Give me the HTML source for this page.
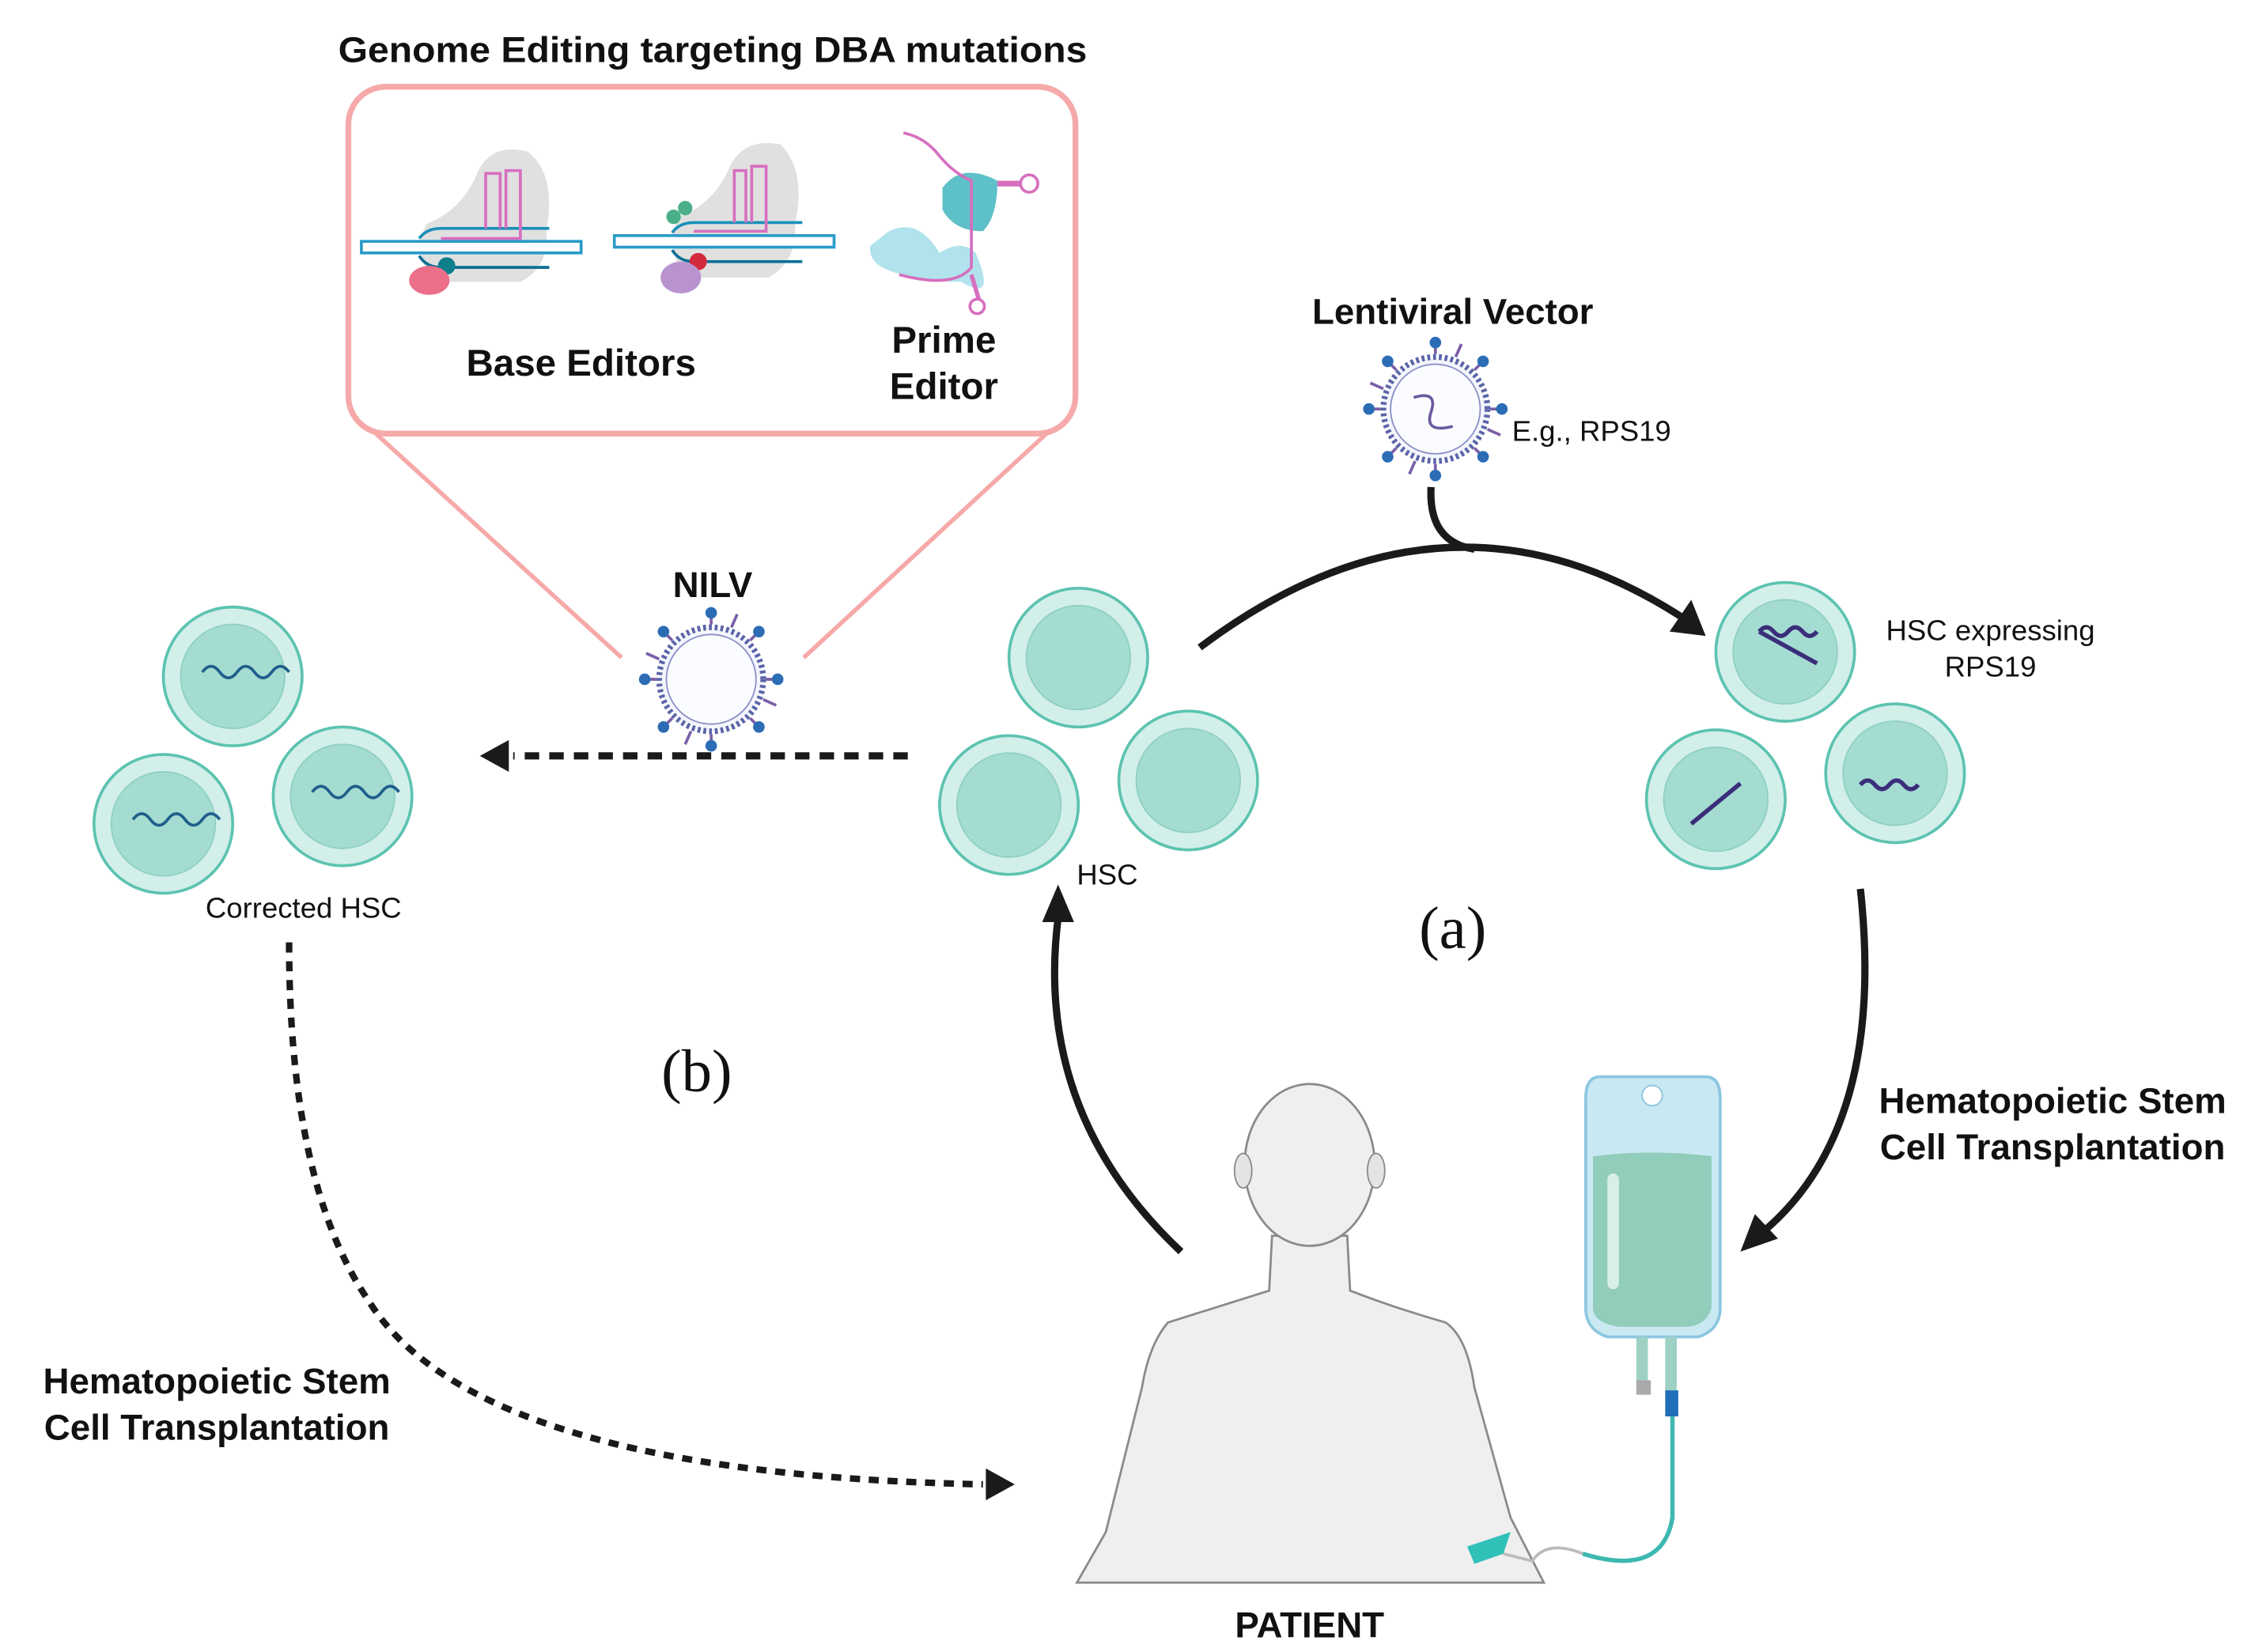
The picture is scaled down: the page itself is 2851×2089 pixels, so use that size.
<!DOCTYPE html>
<html><head><meta charset="utf-8"><style>
html,body{margin:0;padding:0;background:#fff;width:2851px;height:2089px;overflow:hidden}
svg{display:block}
text{font-family:"Liberation Sans",sans-serif;fill:#111}
.b{font-weight:bold}
</style></head><body>
<svg width="2851" height="2089" viewBox="0 0 1560 1143" preserveAspectRatio="none">
<defs>
<marker id="ah" viewBox="0 0 10 10" refX="8" refY="5" markerWidth="6" markerHeight="6" orient="auto" markerUnits="userSpaceOnUse">
</marker>
<g id="cell"><circle r="48" fill="#d3efea" stroke="#5cc3b0" stroke-width="2"/><circle r="36" fill="#a5dcd2" stroke="#8fd0c4" stroke-width="1"/></g>
<g id="virus">
<g stroke="#7a5ea8" stroke-width="2">
<line x1="0" y1="-38" x2="0" y2="-48"/><line x1="0" y1="38" x2="0" y2="48"/><line x1="-38" y1="0" x2="-48" y2="0"/><line x1="38" y1="0" x2="48" y2="0"/>
<line x1="27" y1="27" x2="34" y2="34"/><line x1="-27" y1="27" x2="-34" y2="34"/><line x1="27" y1="-27" x2="34" y2="-34"/><line x1="-27" y1="-27" x2="-34" y2="-34"/>
<line x1="14" y1="-36" x2="18" y2="-45"/><line x1="-14" y1="36" x2="-18" y2="45"/><line x1="36" y1="14" x2="45" y2="18"/><line x1="-36" y1="-14" x2="-45" y2="-18"/>
</g>
<g fill="#2b6cb5"><circle cx="0" cy="-46" r="4"/><circle cx="0" cy="46" r="4"/><circle cx="-46" cy="0" r="4"/><circle cx="46" cy="0" r="4"/><circle cx="33" cy="-33" r="4"/><circle cx="-33" cy="33" r="4"/><circle cx="33" cy="33" r="4"/><circle cx="-33" cy="-33" r="4"/></g>
<circle r="36" fill="#f4f6fc" stroke="#5a64a8" stroke-width="4" stroke-dasharray="2 2"/>
<circle r="31" fill="#fbfcff" stroke="#8a90c8" stroke-width="1"/>
</g>
</defs>

<!-- Title -->
<text x="493" y="43" class="b" font-size="25" text-anchor="middle" textLength="518" lengthAdjust="spacingAndGlyphs">Genome Editing targeting DBA mutations</text>
<!-- box -->
<rect x="241" y="60" width="503" height="240" rx="26" fill="#fff" stroke="#f6a9a9" stroke-width="4"/>
<line x1="260" y1="300" x2="430" y2="455" stroke="#f6a9a9" stroke-width="3"/>
<line x1="724" y1="300" x2="556" y2="455" stroke="#f6a9a9" stroke-width="3"/>

<!-- base editor 1 -->
<path d="M330,120 Q340,98 365,105 Q385,120 378,160 Q380,185 360,195 L300,195 Q285,175 295,155 Q320,145 330,120Z" fill="#e0e0e0"/>
<rect x="250" y="167" width="152" height="8" fill="#fff" stroke="#2a9bc8" stroke-width="2"/>
<path d="M290,165 Q295,158 305,158 L380,158" fill="none" stroke="#1a8fb8" stroke-width="2"/>
<path d="M290,177 Q295,185 305,185 L380,185" fill="none" stroke="#0f6e95" stroke-width="2"/>
<path d="M336,158 L336,120 L346,120 L346,158 M350,158 L350,118 L360,118 L360,165 L305,165" fill="none" stroke="#d66fbf" stroke-width="2"/>
<circle cx="309" cy="184" r="6" fill="#0d7e8a"/>
<ellipse cx="297" cy="194" rx="14" ry="10" fill="#ec6f8a"/>
<!-- base editor 2 -->
<path d="M505,115 Q515,95 540,100 Q558,118 550,155 Q552,180 532,192 L475,192 Q458,170 470,150 Q495,140 505,115Z" fill="#e0e0e0"/>
<rect x="425" y="163" width="152" height="8" fill="#fff" stroke="#2a9bc8" stroke-width="2"/>
<path d="M465,161 Q470,154 480,154 L555,154" fill="none" stroke="#1a8fb8" stroke-width="2"/>
<path d="M465,173 Q470,181 480,181 L555,181" fill="none" stroke="#0f6e95" stroke-width="2"/>
<path d="M508,154 L508,118 L516,118 L516,154 M520,154 L520,115 L530,115 L530,160 L480,160" fill="none" stroke="#d66fbf" stroke-width="2"/>
<circle cx="483" cy="181" r="6" fill="#d42a3e"/>
<ellipse cx="471" cy="192" rx="14" ry="11" fill="#b893cf"/>
<circle cx="466" cy="150" r="5" fill="#4bb08a"/><circle cx="474" cy="144" r="5" fill="#4bb08a"/>
<!-- prime editor -->
<path d="M615,160 Q635,150 650,175 Q665,165 675,175 Q690,210 665,195 Q640,195 625,190 Q600,185 602,170Z" fill="#a8e0ea" opacity="0.9"/>
<path d="M652,130 Q665,112 690,125 Q690,150 680,160 Q660,160 652,145Z" fill="#5ec0c8"/>
<path d="M625,92 Q640,95 650,108 Q660,120 672,125 L672,185 Q660,200 622,190" fill="none" stroke="#d66fbf" stroke-width="2"/>
<path d="M672,190 L678,210" stroke="#d66fbf" stroke-width="3"/>
<circle cx="676" cy="212" r="5" fill="#fff" stroke="#d66fbf" stroke-width="2"/>
<line x1="690" y1="127" x2="708" y2="127" stroke="#d66fbf" stroke-width="4"/>
<circle cx="712" cy="127" r="6" fill="#fff" stroke="#d66fbf" stroke-width="2"/>

<text x="402" y="260" class="b" font-size="26" text-anchor="middle">Base Editors</text>
<text x="653" y="244" class="b" font-size="26" text-anchor="middle">Prime</text>
<text x="653" y="276" class="b" font-size="26" text-anchor="middle">Editor</text>

<!-- NILV -->
<text x="493" y="413" class="b" font-size="25" text-anchor="middle">NILV</text>
<use href="#virus" x="492" y="470"/>

<!-- Lentiviral -->
<text x="1005" y="224" class="b" font-size="25" text-anchor="middle">Lentiviral Vector</text>
<use href="#virus" x="993" y="283"/>
<path d="M978,275 Q995,270 990,285 Q985,300 1005,295" fill="none" stroke="#6b5aa0" stroke-width="2"/>
<text x="1046" y="305" font-size="20">E.g., RPS19</text>

<!-- arrows solid -->
<path d="M990,337 Q988,375 1020,380" fill="none" stroke="#1a1a1a" stroke-width="5"/>
<path d="M830,448 Q1000,320 1165,428" fill="none" stroke="#1a1a1a" stroke-width="5"/>
<polygon points="1180,440 1155,437 1170,415" fill="#1a1a1a"/>
<path d="M817,866 Q715,770 732,635" fill="none" stroke="#1a1a1a" stroke-width="5"/>
<polygon points="732,612 721,638 743,638" fill="#1a1a1a"/>
<path d="M1287,615 Q1305,780 1220,852" fill="none" stroke="#1a1a1a" stroke-width="5"/>
<polygon points="1204,866 1214,840 1230,857" fill="#1a1a1a"/>

<!-- dotted -->
<line x1="628" y1="523" x2="355" y2="523" stroke="#1a1a1a" stroke-width="5" stroke-dasharray="10 7"/>
<polygon points="332,523 352,512 352,534" fill="#1a1a1a"/>
<path d="M200,652 Q200,820 255,900 Q330,1020 680,1027" fill="none" stroke="#1a1a1a" stroke-width="4.5" stroke-dasharray="7 6"/>
<polygon points="702,1027 682,1016 682,1038" fill="#1a1a1a"/>

<!-- HSC cells -->
<use href="#cell" x="746" y="455"/>
<use href="#cell" x="698" y="557"/>
<use href="#cell" x="822" y="540"/>
<text x="766" y="612" font-size="20" text-anchor="middle">HSC</text>

<!-- right cells -->
<use href="#cell" x="1235" y="451"/>
<use href="#cell" x="1187" y="553"/>
<use href="#cell" x="1311" y="535"/>
<g fill="none" stroke="#3a2e7a" stroke-width="3">
<path d="M1217,437 q5,-6 10,0 t10,0 t10,0 t10,0 M1217,437 l40,22"/>
<path d="M1170,570 l34,-28"/>
<path d="M1287,543 q5,-6 10,0 t10,0 t10,0 t10,0"/>
</g>
<text x="1377" y="443" font-size="20" text-anchor="middle">HSC expressing</text>
<text x="1377" y="468" font-size="20" text-anchor="middle">RPS19</text>

<!-- corrected cells -->
<use href="#cell" x="161" y="468"/>
<use href="#cell" x="113" y="570"/>
<use href="#cell" x="237" y="551"/>
<g fill="none" stroke="#1f5e8a" stroke-width="2">
<path d="M140,465 q6,-8 12,0 t12,0 t12,0 t12,0 t12,0"/>
<path d="M92,567 q6,-8 12,0 t12,0 t12,0 t12,0 t12,0"/>
<path d="M216,548 q6,-8 12,0 t12,0 t12,0 t12,0 t12,0"/>
</g>
<text x="210" y="635" font-size="20" text-anchor="middle">Corrected HSC</text>

<text x="1005" y="656" font-family="Liberation Serif" font-size="42" text-anchor="middle" style="font-family:'Liberation Serif',serif">(a)</text>
<text x="482" y="755" font-size="42" text-anchor="middle" style="font-family:'Liberation Serif',serif">(b)</text>

<text x="1420" y="770" class="b" font-size="25" text-anchor="middle">Hematopoietic Stem</text>
<text x="1420" y="802" class="b" font-size="25" text-anchor="middle">Cell Transplantation</text>
<text x="150" y="964" class="b" font-size="25" text-anchor="middle">Hematopoietic Stem</text>
<text x="150" y="996" class="b" font-size="25" text-anchor="middle">Cell Transplantation</text>

<!-- patient -->
<path d="M880,855 L878,893 Q840,905 808,915 Q795,930 790,960 L765,1060 L745,1095 L1068,1095 L1045,1050 L1020,960 Q1015,925 1000,915 Q965,905 934,893 L932,855Z" fill="#efefef" stroke="#8a8a8a" stroke-width="1.5"/>
<ellipse cx="906" cy="806" rx="45" ry="56" fill="#efefef" stroke="#8a8a8a" stroke-width="1.5"/>
<ellipse cx="860" cy="810" rx="6" ry="12" fill="#e4e4e4" stroke="#8a8a8a"/>
<ellipse cx="952" cy="810" rx="6" ry="12" fill="#e4e4e4" stroke="#8a8a8a"/>
<text x="906" y="1133" class="b" font-size="25" text-anchor="middle">PATIENT</text>

<!-- IV bag -->
<path d="M1107,745 L1180,745 Q1190,745 1190,760 L1190,905 Q1190,920 1175,925 L1112,925 Q1097,920 1097,905 L1097,760 Q1097,745 1107,745Z" fill="#c8e8f2" stroke="#8cc6e0" stroke-width="2"/>
<path d="M1102,800 Q1143,795 1184,800 L1184,905 Q1180,918 1165,918 L1120,918 Q1102,915 1102,905Z" fill="#92ccba"/>
<rect x="1112" y="812" width="8" height="80" rx="4" fill="#d8efe8"/>
<circle cx="1143" cy="758" r="7" fill="#fff" stroke="#8cc6e0"/>
<rect x="1132" y="925" width="8" height="30" fill="#9ed0c4"/>
<rect x="1152" y="925" width="8" height="40" fill="#9ed0c4"/>
<rect x="1132" y="955" width="10" height="10" fill="#aaa"/>
<rect x="1152" y="962" width="9" height="18" fill="#1e6eb8"/>
<path d="M1157,980 L1157,1050 Q1150,1092 1095,1075" fill="none" stroke="#3cb8b0" stroke-width="3"/>
<path d="M1095,1075 Q1070,1065 1060,1080 L1040,1075" fill="none" stroke="#bbb" stroke-width="2"/>
<path d="M1015,1070 L1045,1060 L1040,1075 L1020,1082Z" fill="#2fc0b8"/>
</svg>
</body></html>
